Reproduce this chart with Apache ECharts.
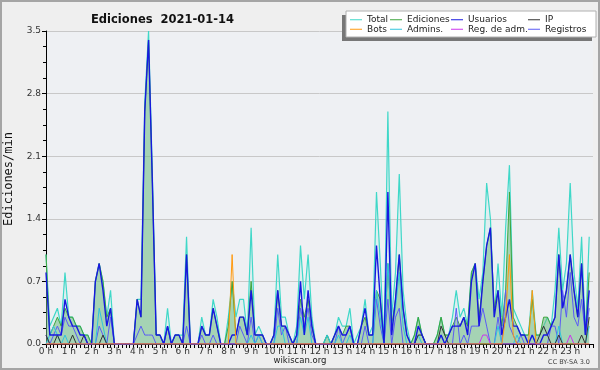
<!DOCTYPE html>
<html>
<head>
<meta charset="utf-8">
<script src="https://cdn.jsdelivr.net/npm/echarts@6/dist/echarts.min.js"></script>
<style>
  html, body { margin: 0; padding: 0; background: #efefef; }
  #chart { width: 600px; height: 370px; }
</style>
</head>
<body>
<div id="chart"></div>
<script>
// one value every 10 minutes, 00:00 .. 23:50 (edits per minute)
const total = [
  1.0, 0.2, 0.3, 0.4, 0.2, 0.8,  0.3, 0.3, 0.2, 0.2, 0.1, 0.1,  0, 0.7, 0.9, 0.7, 0.3, 0.6,  0, 0, 0, 0, 0, 0,
  0.5, 0.5, 2.7, 3.5, 1.9, 0.1,  0.1, 0, 0.4, 0, 0.1, 0.1,  0.1, 1.2, 0, 0, 0, 0.3,  0.1, 0.1, 0.5, 0.3, 0, 0,
  0.3, 0.7, 0.3, 0.5, 0.5, 0.1,  1.3, 0.1, 0.2, 0.1, 0, 0,  0.1, 1.0, 0.3, 0.3, 0.1, 0,  0.2, 1.1, 0.5, 1.0, 0.3, 0,
  0, 0, 0.1, 0, 0.1, 0.3,  0.2, 0.2, 0.4, 0, 0.1, 0.2,  0.5, 0.1, 0.2, 1.7, 0.9, 0,  2.6, 0.3, 0.8, 1.9, 0.6, 0.2,
  0, 0.1, 0.3, 0.1, 0, 0,  0, 0.1, 0.3, 0.1, 0.1, 0.3,  0.6, 0.3, 0.4, 0.2, 0.8, 0.9,  0.5, 0.8, 1.8, 1.4, 0.3, 0.9,
  0.3, 1.3, 2.0, 0.4, 0.3, 0.2,  0.1, 0.1, 0.6, 0.1, 0.1, 0.2,  0.3, 0.2, 0.6, 1.3, 0.6, 0.9,  1.8, 0.8, 0.4, 1.2, 0.1, 1.2
];
const ediciones = [
  1.0, 0.1, 0.2, 0.3, 0.2, 0.4,  0.3, 0.3, 0.2, 0.2, 0.1, 0.1,  0, 0.7, 0.9, 0.7, 0.3, 0.4,  0, 0, 0, 0, 0, 0,
  0.5, 0.3, 2.6, 3.4, 1.8, 0.1,  0.1, 0, 0.2, 0, 0.1, 0.1,  0, 1.0, 0, 0, 0, 0.2,  0.1, 0.1, 0.4, 0.2, 0, 0,
  0.2, 0.7, 0.1, 0.3, 0.3, 0.1,  0.7, 0.1, 0.1, 0.1, 0, 0,  0.1, 0.6, 0.2, 0.2, 0.1, 0,  0.1, 0.5, 0.3, 0.5, 0.2, 0,
  0, 0, 0.1, 0, 0.1, 0.2,  0.1, 0.2, 0.2, 0, 0, 0.2,  0.3, 0.1, 0.1, 0.6, 0.5, 0,  0.9, 0.2, 0.5, 1.0, 0.4, 0.1,
  0, 0.1, 0.3, 0.1, 0, 0,  0, 0.1, 0.3, 0.1, 0.1, 0.2,  0.3, 0.2, 0.3, 0.2, 0.8, 0.9,  0.3, 0.7, 1.1, 1.3, 0.4, 0.6,
  0.2, 0.6, 1.7, 0.3, 0.2, 0.1,  0.1, 0.1, 0.5, 0.1, 0.1, 0.3,  0.3, 0.2, 0.3, 1.0, 0.4, 0.6,  1.0, 0.6, 0.3, 0.9, 0.1, 0.8
];
const usuarios = [
  0.8, 0.1, 0.1, 0.1, 0.1, 0.5,  0.3, 0.2, 0.2, 0.1, 0.1, 0,  0, 0.7, 0.9, 0.6, 0.2, 0.4,  0, 0, 0, 0, 0, 0,
  0.5, 0.3, 2.6, 3.4, 1.8, 0.1,  0.1, 0, 0.2, 0, 0.1, 0.1,  0, 1.0, 0, 0, 0, 0.2,  0.1, 0.1, 0.4, 0.2, 0, 0,
  0, 0.1, 0.1, 0.3, 0.3, 0.1,  0.6, 0.1, 0.1, 0.1, 0, 0,  0.1, 0.6, 0.2, 0.2, 0.1, 0,  0.1, 0.7, 0.1, 0.6, 0.2, 0,
  0, 0, 0, 0, 0.1, 0.2,  0.1, 0.1, 0.2, 0, 0, 0.2,  0.4, 0.1, 0.1, 1.1, 0.5, 0,  1.7, 0.1, 0.5, 1.0, 0.4, 0.1,
  0, 0, 0.2, 0.1, 0, 0,  0, 0, 0.1, 0, 0.1, 0.2,  0.2, 0.2, 0.3, 0.1, 0.7, 0.9,  0.2, 0.7, 1.1, 1.3, 0.3, 0.6,
  0.1, 0.3, 0.5, 0.2, 0.2, 0.1,  0.1, 0, 0.1, 0, 0, 0.1,  0.1, 0.2, 0.3, 1.0, 0.4, 0.6,  1.0, 0.6, 0.3, 0.9, 0.1, 0.6
];
const ip = [
  0.1, 0, 0, 0.1, 0, 0,  0, 0.1, 0, 0, 0.1, 0,  0, 0, 0, 0.1, 0, 0,  0, 0, 0, 0, 0, 0,
  0, 0, 0, 0, 0, 0,  0, 0, 0, 0, 0, 0,  0, 0, 0, 0, 0, 0,  0, 0, 0, 0, 0, 0,
  0, 0, 0, 0, 0, 0,  0, 0, 0, 0, 0, 0,  0, 0, 0, 0, 0, 0,  0, 0, 0, 0, 0, 0,
  0, 0, 0, 0, 0, 0,  0, 0, 0, 0, 0, 0,  0, 0, 0, 0, 0, 0,  0, 0, 0, 0, 0, 0,
  0, 0, 0.1, 0.1, 0, 0,  0, 0, 0.2, 0.1, 0, 0,  0, 0, 0, 0, 0, 0,  0, 0, 0, 0, 0, 0,
  0, 0, 0, 0, 0, 0,  0, 0, 0, 0, 0.1, 0.2,  0.1, 0, 0, 0.1, 0, 0,  0, 0, 0, 0.1, 0, 0.3
];
const bots = [
  0, 0, 0, 0, 0, 0,  0, 0, 0, 0, 0, 0,  0, 0, 0, 0, 0, 0,  0, 0, 0, 0, 0, 0,
  0, 0, 0, 0, 0, 0,  0, 0, 0, 0, 0, 0,  0, 0, 0, 0, 0, 0,  0, 0, 0, 0, 0, 0,
  0, 1.0, 0, 0, 0, 0,  0, 0, 0, 0, 0, 0,  0, 0, 0, 0, 0, 0,  0, 0, 0, 0, 0, 0,
  0, 0, 0, 0, 0, 0,  0, 0, 0, 0, 0, 0,  0, 0, 0, 0, 0, 0,  0, 0, 0, 0, 0, 0,
  0, 0, 0, 0, 0, 0,  0, 0, 0, 0, 0, 0,  0, 0, 0, 0, 0, 0,  0, 0, 0, 0, 0, 0,
  0, 0.3, 1.0, 0.1, 0, 0,  0, 0, 0.6, 0, 0, 0,  0, 0, 0, 0, 0, 0,  0, 0, 0, 0, 0, 0
];
const admins = [
  0, 0.1, 0.2, 0.1, 0, 0.1,  0, 0, 0, 0, 0, 0,  0, 0, 0.4, 0.2, 0, 0,  0, 0, 0, 0, 0, 0,
  0, 0, 0, 0, 0, 0,  0, 0, 0, 0, 0, 0,  0, 0, 0, 0, 0, 0,  0, 0, 0, 0, 0, 0,
  0, 0, 0, 0, 0, 0,  0.1, 0, 0.1, 0, 0, 0,  0, 0.2, 0.2, 0, 0, 0,  0, 0.3, 0.1, 0.3, 0, 0,
  0, 0, 0.1, 0, 0, 0.1,  0, 0, 0.1, 0, 0, 0,  0, 0, 0, 0.6, 0.3, 0,  0.9, 0.2, 0.4, 0.8, 0.2, 0,
  0, 0, 0.1, 0, 0, 0,  0, 0, 0.1, 0, 0, 0,  0, 0, 0, 0, 0, 0,  0, 0, 0, 0, 0, 0.2,
  0, 0, 0, 0, 0.1, 0,  0, 0, 0.1, 0, 0, 0,  0, 0, 0, 0.2, 0, 0,  0, 0, 0, 0, 0, 0.2
];
const regAdm = [
  0, 0, 0, 0, 0, 0,  0, 0, 0, 0, 0, 0,  0, 0, 0, 0, 0, 0,  0, 0, 0, 0, 0, 0,
  0, 0, 0, 0, 0, 0,  0, 0, 0, 0, 0, 0,  0, 0, 0, 0, 0, 0,  0, 0, 0, 0, 0, 0,
  0, 0, 0, 0, 0, 0,  0, 0, 0, 0, 0, 0,  0, 0, 0, 0, 0, 0,  0, 0, 0, 0, 0, 0,
  0, 0, 0, 0, 0, 0,  0, 0, 0, 0, 0, 0,  0, 0, 0, 0, 0, 0,  0, 0, 0, 0, 0, 0,
  0, 0, 0, 0, 0, 0,  0, 0, 0, 0, 0, 0,  0, 0, 0, 0, 0, 0,  0, 0.1, 0.1, 0, 0, 0,
  0, 0, 0, 0, 0, 0,  0, 0, 0, 0, 0, 0,  0, 0, 0, 0, 0, 0,  0.1, 0, 0, 0, 0, 0
];
const registros = [
  0.1, 0, 0.1, 0.2, 0.1, 0.3,  0.2, 0.2, 0.1, 0, 0, 0,  0, 0, 0.2, 0.1, 0, 0.3,  0, 0, 0, 0, 0, 0,
  0.1, 0.2, 0.1, 0.1, 0.1, 0,  0, 0, 0.2, 0, 0, 0,  0, 0.2, 0, 0, 0, 0.1,  0, 0, 0.1, 0, 0, 0,
  0, 0, 0, 0.2, 0.1, 0,  0.3, 0, 0.1, 0, 0, 0,  0, 0.4, 0.1, 0.2, 0, 0,  0, 0.4, 0.2, 0.4, 0.1, 0,
  0, 0, 0, 0, 0, 0.2,  0, 0.1, 0.2, 0, 0, 0,  0.2, 0, 0, 0.5, 0.2, 0,  0.5, 0, 0.3, 0.4, 0, 0,
  0, 0, 0, 0, 0, 0,  0, 0, 0, 0, 0, 0,  0.4, 0, 0.1, 0, 0.2, 0.2,  0.2, 0.4, 0.2, 0, 0, 0.3,
  0, 0.6, 0.2, 0.1, 0, 0.1,  0, 0, 0, 0, 0, 0,  0, 0.2, 0.2, 0, 0.6, 0.3,  0.8, 0.3, 0.2, 0.5, 0.1, 0.4
];

const hourLabels = Array.from({ length: 24 }, (_, h) => `${h} h`);
const yTicks = [0, 0.7, 1.4, 2.1, 2.8, 3.5];

const FONT = 'DejaVu Sans';
const toPoints = arr => arr.map((v, i) => [i, v]);

const lineSeries = (name, data, color, extra = {}) => ({
  name,
  type: 'line',
  data: toPoints(data),
  showSymbol: false,
  symbol: 'none',
  lineStyle: { color, width: 1 },
  itemStyle: { color },
  ...extra
});

const legendCols = [
  { names: ['Total', 'Bots'], left: 350 },
  { names: ['Ediciones', 'Admins.'], left: 390 },
  { names: ['Usuarios', 'Reg. de adm.'], left: 451 },
  { names: ['IP', 'Registros'], left: 528 }
];

const chart = echarts.init(document.getElementById('chart'), null, { renderer: 'canvas' });

chart.setOption({
  animation: false,
  backgroundColor: '#efefef',
  textStyle: { fontFamily: FONT },
  title: {
    text: 'Ediciones  2021-01-14',
    left: 86,
    top: 9,
    textStyle: { fontFamily: FONT, fontWeight: 'bold', fontSize: 11.5, color: '#111' }
  },
  legend: legendCols.map(col => ({
    data: col.names,
    orient: 'vertical',
    left: col.left,
    top: 15,
    padding: 0,
    itemGap: 0,
    itemWidth: 12,
    itemHeight: 1,
    icon: 'rect',
    selectedMode: false,
    textStyle: { fontFamily: FONT, fontSize: 9, color: '#222', lineHeight: 9.5 }
  })),
  grid: {
    left: 46,
    right: 7,
    top: 31,
    bottom: 26,
    show: true,
    backgroundColor: '#eef0f3',
    borderWidth: 0
  },
  xAxis: {
    type: 'value',
    min: 0,
    max: 144,
    interval: 6,
    splitLine: { show: false },
    axisLine: { lineStyle: { color: '#000', width: 1 } },
    axisTick: { length: 4, lineStyle: { color: '#000' } },
    minorTick: { show: true, splitNumber: 6, length: 4, lineStyle: { color: '#000' } },
    axisLabel: {
      fontFamily: FONT,
      fontSize: 9,
      color: '#333',
      margin: 3,
      formatter: v => hourLabels[v / 6] ?? ''
    }
  },
  yAxis: {
    type: 'value',
    min: yTicks[0],
    max: yTicks[yTicks.length - 1],
    interval: 0.7,
    axisLine: { show: true, lineStyle: { color: '#000', width: 1 } },
    axisTick: { show: true, length: 4, lineStyle: { color: '#000' } },
    minorTick: { show: true, splitNumber: 4, length: 3, lineStyle: { color: '#000' } },
    splitLine: { lineStyle: { color: '#c8c8c8', width: 1 } },
    axisLabel: {
      fontFamily: FONT,
      fontSize: 9,
      color: '#333',
      margin: 5,
      formatter: v => v.toFixed(1)
    }
  },
  graphic: [
    {
      type: 'rect',
      silent: true,
      shape: { x: 1, y: 1, width: 598, height: 368 },
      style: { fill: 'none', stroke: '#a5a5a5', lineWidth: 2 },
      z: 100
    },
    {
      type: 'rect',
      silent: true,
      shape: { x: 342, y: 15, width: 250, height: 26 },
      style: { fill: '#777' },
      z: 1
    },
    {
      type: 'rect',
      silent: true,
      shape: { x: 346, y: 11, width: 250, height: 26 },
      style: { fill: '#fff', stroke: '#b0b0b0', lineWidth: 1 },
      z: 2
    },
    {
      type: 'text',
      silent: true,
      x: 9,
      y: 179,
      rotation: Math.PI / 2,
      style: {
        text: 'Ediciones/min',
        fontFamily: 'DejaVu Sans Mono',
        fontSize: 12,
        fill: '#111',
        align: 'center',
        verticalAlign: 'middle'
      }
    },
    {
      type: 'text',
      silent: true,
      x: 300,
      y: 361,
      style: {
        text: 'wikiscan.org',
        fontFamily: FONT,
        fontSize: 8.5,
        fill: '#222',
        align: 'center',
        verticalAlign: 'middle'
      }
    },
    {
      type: 'text',
      silent: true,
      x: 590,
      y: 362,
      style: {
        text: 'CC BY-SA 3.0',
        fontFamily: FONT,
        fontSize: 6.5,
        fill: '#444',
        align: 'right',
        verticalAlign: 'middle'
      }
    }
  ],
  series: [
    lineSeries('Total', total, '#3fd8c8', {
      lineStyle: { color: '#3fd8c8', width: 1.2 },
      areaStyle: { color: 'rgba(64,224,208,0.12)' },
      z: 2
    }),
    lineSeries('Ediciones', ediciones, '#3da53d', {
      areaStyle: { color: 'rgba(112,186,126,0.75)' },
      z: 3
    }),
    lineSeries('Registros', registros, '#5b5bf5', { z: 4 }),
    lineSeries('Admins.', admins, '#30c4dc', { z: 5 }),
    lineSeries('IP', ip, '#333333', { z: 6 }),
    lineSeries('Usuarios', usuarios, '#1818e0', {
      lineStyle: { color: '#1818e0', width: 1.4 },
      z: 7
    }),
    lineSeries('Reg. de adm.', regAdm, '#cc33ee', { z: 8 }),
    lineSeries('Bots', bots, '#ff9a10', { z: 9 })
  ]
});
</script>
</body>
</html>
